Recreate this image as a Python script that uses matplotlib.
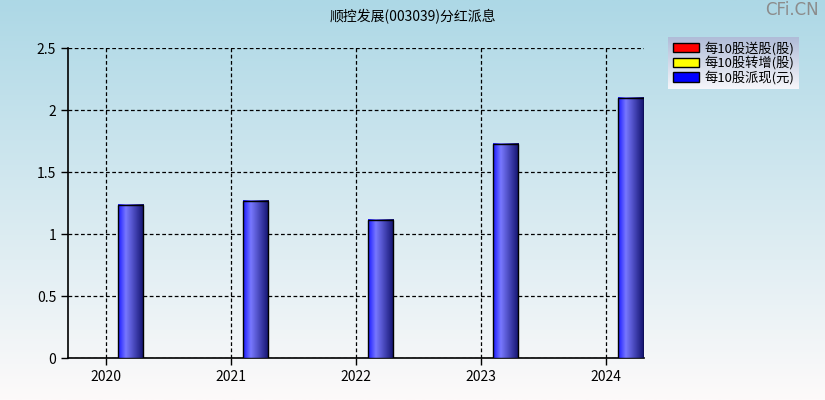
import numpy as np
import matplotlib
matplotlib.use('Agg')
import matplotlib.pyplot as plt
from matplotlib.patches import Patch

plt.rcParams['font.family'] = ['Noto Sans CJK SC', 'DejaVu Sans']

years = [2020, 2021, 2022, 2023, 2024]
song_gu = [0, 0, 0, 0, 0]        # 每10股送股(股)
zhuan_zeng = [0, 0, 0, 0, 0]     # 每10股转增(股)
pai_xian = [1.24, 1.27, 1.115, 1.73, 2.1]  # 每10股派现(元)
legend_labels = ['每10股送股(股)', '每10股转增(股)', '每10股派现(元)']
title = '顺控发展(003039)分红派息'

W, H = 825, 400
fig = plt.figure(figsize=(W / 100, H / 100), dpi=100)

# background gradient, light blue to white
bg = fig.add_axes([0, 0, 1, 1], zorder=-10)
top = np.array([173, 216, 230]) / 255
bot = np.array([253, 250, 250]) / 255
t = np.linspace(0, 1, 256)[:, None]
grad = top * (1 - t) + bot * t
bg.imshow(grad[:, None, :], aspect='auto', extent=[0, 1, 0, 1])
bg.axis('off')

ax = fig.add_axes([68 / W, 1 - 358.3 / H, (643.5 - 68) / W, (358.3 - 48.3) / H])
ax.patch.set_alpha(0)

x = np.array(years)
width = 0.2
ax.bar(x - width, song_gu, width, color='red', edgecolor='none')
ax.bar(x, zhuan_zeng, width, color='yellow', edgecolor='none')
rects = ax.bar(x + width, pai_xian, width, color='none', edgecolor='black', linewidth=1.0, zorder=4)

# shaded bar fill
pos = np.array([0, 0.3, 1.0])
cols = np.array([[25, 25, 255], [120, 120, 255], [18, 18, 110]]) / 255
xs = np.linspace(0, 1, 64)
shade = np.stack([np.interp(xs, pos, cols[:, i]) for i in range(3)], axis=-1)[None, :, :]
for r in rects:
    x0, y0 = r.get_x(), r.get_y()
    ax.imshow(shade, aspect='auto', extent=[x0, x0 + r.get_width(), y0, y0 + r.get_height()], zorder=3)

ax.set_xlim(2019.7, 2024.3)
ax.set_ylim(0, 2.5)
ax.set_xticks(years)
ax.set_xticklabels([str(y) for y in years])
ax.set_yticks([0, 0.5, 1, 1.5, 2, 2.5])
ax.set_yticklabels(['0', '0.5', '1', '1.5', '2', '2.5'])
ax.grid(True, color='black', linestyle=(0, (3, 2)), linewidth=0.9)
ax.set_axisbelow(True)
for s in ['top', 'right']:
    ax.spines[s].set_visible(False)
ax.spines['left'].set_linewidth(1.2)
ax.spines['bottom'].set_linewidth(1.2)
ax.tick_params(labelsize=10, length=5, width=1, direction='out', colors='black')

fig.text(0.5, 1 - 17 / H, title, ha='center', va='center', fontsize=10)
fig.text(0.993, 1 - 10 / H, 'CFi.CN', ha='right', va='center', fontsize=12,
         color='#8c8c8c', family='DejaVu Sans')

# legend box with its own gradient
lax = fig.add_axes([668 / W, 1 - 89 / H, 131 / W, 52 / H])
lt = np.linspace(0, 1, 64)[:, None]
lgrad = np.array([176, 188, 216]) / 255 * (1 - lt) + np.array([246, 246, 250]) / 255 * lt
lax.imshow(lgrad[:, None, :], aspect='auto', extent=[0, 1, 0, 1])
lax.axis('off')
handles = [Patch(facecolor=c, edgecolor='black') for c in ['red', 'yellow', 'blue']]
lax.legend(handles, legend_labels, loc='center', frameon=False, fontsize=9.5,
           handlelength=2.0, handleheight=0.7, handletextpad=0.4, labelspacing=0.05,
           borderpad=0.1)

fig.savefig('out.png', dpi=100)
